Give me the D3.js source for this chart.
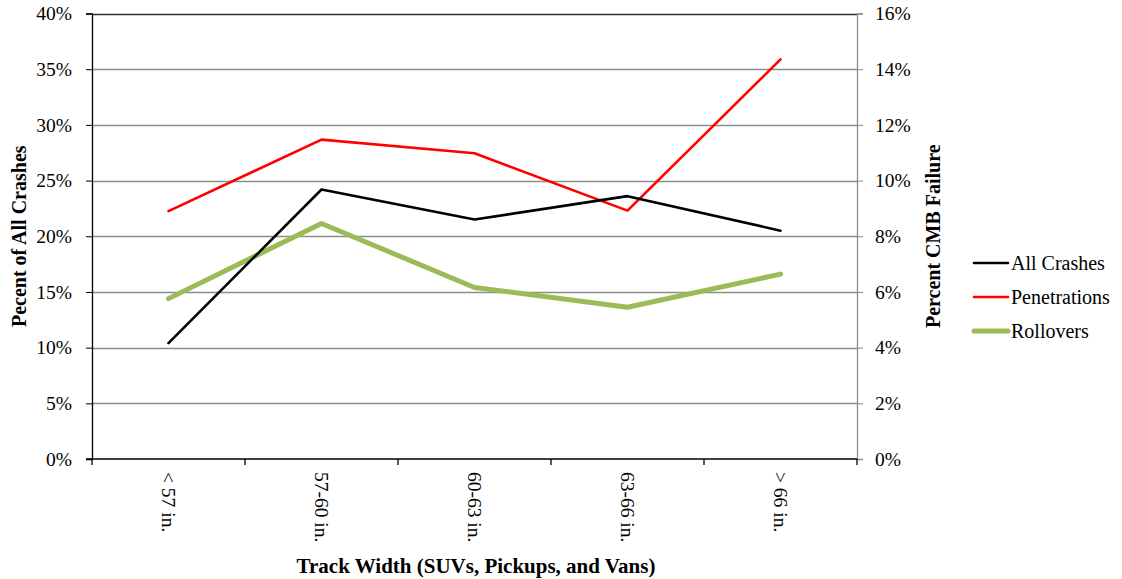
<!DOCTYPE html>
<html>
<head>
<meta charset="utf-8">
<script src="https://cdn.jsdelivr.net/npm/d3@7"></script>
<style>
  body { margin: 0; background: #fff; }
  text { font-family: "Liberation Serif", "Times New Roman", serif; fill: #000; }
</style>
</head>
<body>
<div id="chart"></div>
<script>
// data
var categories = ["< 57 in.", "57-60 in.", "60-63 in.", "63-66 in.", "> 66 in."];
var allCrashes = [10.4, 24.2, 21.5, 23.6, 20.5];      // left axis
var penetrations = [8.9, 11.47, 10.98, 8.92, 14.35];  // right axis
var rollovers = [5.76, 8.46, 6.16, 5.45, 6.64];       // right axis
var leftTicks = [0, 5, 10, 15, 20, 25, 30, 35, 40];
var rightTicks = [0, 2, 4, 6, 8, 10, 12, 14, 16];

var W = 1122, H = 579;
var x0 = 92, x1 = 857, yTop = 13.5, yBot = 459;

var svg = d3.select("#chart").append("svg").attr("width", W).attr("height", H);

var x = d3.scaleBand().domain(categories).range([x0, x1]);
var yL = d3.scaleLinear().domain([0, 40]).range([yBot, yTop]);
var yR = d3.scaleLinear().domain([0, 16]).range([yBot, yTop]);

// gridlines
svg.append("g").selectAll("line").data(leftTicks.slice(1)).join("line")
  .attr("x1", x0).attr("x2", x1)
  .attr("y1", d => Math.round(yL(d)) + 0.5).attr("y2", d => Math.round(yL(d)) + 0.5)
  .attr("stroke", d => d == 40 ? "#333" : "#8c8c8c").attr("stroke-width", 1.3);

// left axis
var gL = svg.append("g").attr("transform", "translate(" + x0 + ",0)")
  .call(d3.axisLeft(yL).tickValues(leftTicks).tickFormat(d => d + "%").tickSize(6).tickPadding(14));
gL.select(".domain").attr("stroke", "#000").attr("stroke-width", 1.3);
gL.selectAll(".tick line").attr("stroke", "#000");
gL.selectAll("text").style("font-size", "19.5px").style("font-family", "Liberation Serif");

// right axis
var gR = svg.append("g").attr("transform", "translate(" + x1 + ",0)")
  .call(d3.axisRight(yR).tickValues(rightTicks).tickFormat(d => d + "%").tickSize(6).tickPadding(12));
gR.select(".domain").attr("stroke", "#8c8c8c").attr("stroke-width", 1.3);
gR.selectAll(".tick line").attr("stroke", "#8c8c8c");
gR.selectAll("text").style("font-size", "19.5px").style("font-family", "Liberation Serif");

// bottom axis, ticks at category boundaries
var bounds = categories.map(c => x(c)).concat([x1]);
svg.append("line").attr("x1", x0 - 6).attr("x2", x1).attr("y1", yBot).attr("y2", yBot)
  .attr("stroke", "#000").attr("stroke-width", 1.3);
svg.append("g").selectAll("line").data(bounds).join("line")
  .attr("x1", d => d).attr("x2", d => d).attr("y1", yBot).attr("y2", yBot + 6)
  .attr("stroke", "#000").attr("stroke-width", 1.3);
svg.append("g").selectAll("text").data(categories).join("text")
  .attr("transform", d => "translate(" + (x(d) + x.bandwidth() / 2 - 7) + "," + (yBot + 13) + ") rotate(90)")
  .attr("text-anchor", "start")
  .style("font-size", "19.5px")
  .text(d => d);

// lines
var cx = d => x(d) + x.bandwidth() / 2;
function addLine(vals, yScale, color, width) {
  var line = d3.line().x((d, i) => cx(categories[i])).y(d => yScale(d));
  svg.append("path").datum(vals).attr("d", line)
    .attr("fill", "none").attr("stroke", color).attr("stroke-width", width)
    .attr("stroke-linejoin", "round").attr("stroke-linecap", "round");
}
addLine(rollovers, yR, "#9bbb59", 5);
addLine(penetrations, yR, "#ff0000", 2.6);
addLine(allCrashes, yL, "#000000", 2.6);

// axis titles
svg.append("text")
  .attr("transform", "translate(26," + ((yTop + yBot) / 2) + ") rotate(-90)")
  .attr("text-anchor", "middle").style("font-size", "20px").style("font-weight", "bold")
  .text("Pecent of All Crashes");
svg.append("text")
  .attr("transform", "translate(940," + ((yTop + yBot) / 2) + ") rotate(-90)")
  .attr("text-anchor", "middle").style("font-size", "20px").style("font-weight", "bold")
  .text("Percent CMB Failure");
svg.append("text")
  .attr("x", 476).attr("y", 573)
  .attr("text-anchor", "middle").style("font-size", "21px").style("font-weight", "bold")
  .text("Track Width (SUVs, Pickups, and Vans)");

// legend
var legend = [
  { name: "All Crashes", color: "#000000", w: 2.6 },
  { name: "Penetrations", color: "#ff0000", w: 2.6 },
  { name: "Rollovers", color: "#9bbb59", w: 5 }
];
var lg = svg.append("g").selectAll("g").data(legend).join("g")
  .attr("transform", (d, i) => "translate(974," + (263 + i * 34) + ")");
lg.append("line").attr("x1", 0).attr("x2", 34).attr("y1", 0).attr("y2", 0)
  .attr("stroke", d => d.color).attr("stroke-width", d => d.w).attr("stroke-linecap", "round");
lg.append("text").attr("x", 37).attr("y", 7).style("font-size", "20px").text(d => d.name);
</script>
</body>
</html>
